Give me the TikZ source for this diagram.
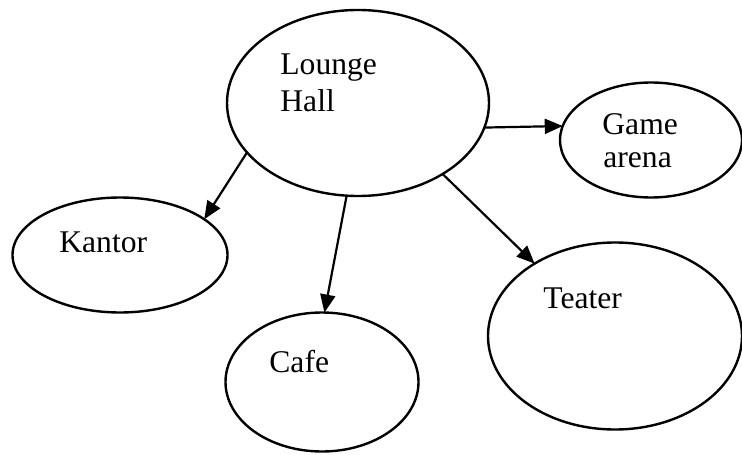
\documentclass[tikz,border=0pt]{standalone}
\usepackage{fontspec}
\setmainfont{Liberation Serif}
\usetikzlibrary{shapes.geometric,arrows.meta}
\begin{document}
\begin{tikzpicture}[x=0.5pt,y=-0.5pt,
  bubble/.style={draw=black,line width=1.2pt,ellipse,inner sep=0pt,outer sep=0pt},
  lbl/.style={anchor=base west,inner sep=0pt,font=\fontsize{15.8}{18}\selectfont},
  link/.style={draw=black,line width=1.1pt,-{Triangle[length=9pt,width=7.5pt]}}]
\useasboundingbox (0,0) rectangle (742,454);
\node[bubble,minimum width=131pt,minimum height=93pt] (lounge) at (358,103) {};
\node[bubble,minimum width=91pt,minimum height=57.5pt] (game) at (651,140) {};
\node[bubble,minimum width=107.5pt,minimum height=57.5pt] (kantor) at (120,255) {};
\node[bubble,minimum width=96.5pt,minimum height=69.5pt] (cafe) at (322,382) {};
\node[bubble,minimum width=127pt,minimum height=93.5pt] (teater) at (615,336) {};
\node[lbl] (t1) at (280,75) {Lounge};
\node[lbl] (t2) at (280,112) {Hall};
\node[lbl] (t3) at (602,135) {Game};
\node[lbl] (t4) at (603,168) {arena};
\node[lbl] (t5) at (59,252) {Kantor};
\node[lbl] (t6) at (269,372) {Cafe};
\node[lbl] (t7) at (543,308) {Teater};
\draw[link] (lounge.349.5) -- (game.171.9);
\draw[link] (lounge.204) -- (kantor.23.4);
\draw[link] (lounge.263.3) -- (cafe.88.3);
\draw[link] (lounge.320.5) -- (teater.138.4);
\end{tikzpicture}
\end{document}
